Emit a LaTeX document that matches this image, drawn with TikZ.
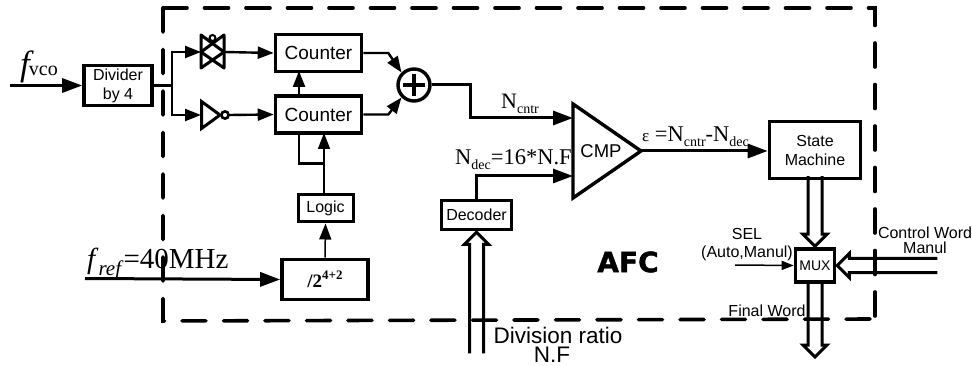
\documentclass[tikz,border=0pt]{standalone}
\usepackage{fontspec}
\setmainfont{Liberation Serif}
\setsansfont{Liberation Sans}
\newfontfamily\afcfont[BoldFeatures={FakeBold=1.5}]{DejaVu Sans}
\usetikzlibrary{arrows.meta,calc,shapes.geometric}
\newcommand{\fs}[1]{\fontsize{#1}{#1}\selectfont}
\newcommand{\lowtxt}[2]{\raisebox{-0.22em}{\fs{#1}#2}}
\tikzset{
  x=1pt,y=-1pt,
  box/.style={draw=black,line width=3.6pt,inner sep=0pt,align=center,font=\sffamily\fontsize{16}{19}\selectfont,fill=white},
  txt/.style={inner sep=0pt,align=center,font=\sffamily\fs{16}},
  tip/.style={-{Triangle[length=16pt,width=12pt]}},
  bigtip/.style={-{Triangle[length=20pt,width=14pt]}},
  thick line/.style={line width=3pt,line join=miter},
  mid line/.style={line width=2.4pt,line join=miter},
  thin line/.style={line width=1.5pt,line join=miter},
  frame line/.style={line width=3.6pt,line cap=round,dash pattern=on 24pt off 17.5pt},
  hollow/.style={line width=3pt,line join=miter,fill=none},
}
\newcommand{\hollowarrow}[3]{% apex, rotation, tail length
  \draw[hollow,shift={(#1)},rotate=#2] (-7,#3) -- (-7,13) -- (-12,13) -- (0,1) -- (12,13) -- (7,13) -- (7,#3);}
\begin{document}
\begin{tikzpicture}
\useasboundingbox (0,0) rectangle (972,366);
\fill[white] (0,0) rectangle (972,366);
% AFC frame
\coordinate (fTL) at (163,8); \coordinate (fTR) at (875,8);
\coordinate (fBL) at (163,321); \coordinate (fBR) at (875,319);
\draw[frame line] (fTL) -- (fTR) -- (fBR);
\draw[frame line] (fTL) -- (fBL) -- (fBR);
% blocks
\node[box,minimum width=68pt,minimum height=40pt] (div) at (118,85.5) {Divider\\by 4};
\node[box,font=\sffamily\fs{19},minimum width=86pt,minimum height=37pt] (c1) at (318.5,53) {Counter};
\node[box,font=\sffamily\fs{19},minimum width=86pt,minimum height=37pt] (c2) at (318.5,114.5) {Counter};
\node[box,line width=3pt,minimum width=55pt,minimum height=27pt] (logic) at (325.5,208.5) {Logic};
\node[box,minimum width=86pt,minimum height=40pt] (pow) at (325,279.5) {\rmfamily\bfseries\fs{19}/2\raisebox{0.45em}{\fs{13}4+2}};
\node[box,minimum width=70pt,minimum height=29pt] (dec) at (476.5,215) {Decoder};
\node[box,minimum width=91pt,minimum height=57pt] (sm) at (815,150) {State\\Machine};
\node[box,font=\sffamily\fs{14},minimum width=39pt,minimum height=33pt] (mux) at (815,265.5) {MUX};
\node[draw,circle,line width=3.4pt,minimum size=32pt,inner sep=0pt] (sum) at (414,85) {};
\draw[line width=3.6pt] (sum.center) ++(-11,0) -- ++(22,0) (sum.center) ++(0,-11) -- ++(0,22);
\coordinate (cmpa0) at (573,104); \coordinate (cmpb0) at (573,198); \coordinate (cmpo) at (641,151);
\draw[line width=3.4pt,line join=miter] (cmpa0) -- (cmpo) -- (cmpb0) -- cycle;
\node[txt,font=\sffamily\fs{18.5}] (cmpt) at (601,151) {CMP};
% transmission gate
\coordinate (tgw) at (201,52); \coordinate (tge) at (224,52);
\draw[line width=3pt,line join=round] (201,35) -- (224,52) -- (201,68) -- cycle;
\draw[line width=3pt,line join=round] (224,35) -- (201,52) -- (224,68) -- cycle;
\draw[line width=2pt] (212.5,38) circle (3pt);
% inverter
\coordinate (invw) at (201,115); \coordinate (inve) at (229,115);
\draw[line width=3pt,line join=miter] (201.5,101.5) -- (220,115) -- (201.5,128.5) -- cycle;
\draw[line width=2.6pt] (225,115) circle (3.6pt);
% input and connectors
\coordinate (vcoin) at (10,85.5);
\coordinate (refin) at (85,278.5);
\coordinate (split) at (172,85.5);
\draw[thick line,bigtip] (vcoin) -- (div.west);
\draw[thick line,bigtip] (refin) -- (pow.west);
\draw[mid line] (div.east) -- (split);
\draw[mid line,tip] (split) |- (tgw);
\draw[mid line,tip] (split) |- (invw);
\draw[mid line,tip] (tge) -- (c1.west);
\draw[mid line,tip] (inve) -- (c2.west);
\coordinate (c2top) at (299,96); \coordinate (c1bot) at (299,71);
\draw[mid line,tip] (c2top) -- (c1bot);
\draw[mid line,tip] (c1.east) -- ++(25,0) -- (sum.north west);
\draw[mid line,tip] (c2.east) -- ++(25,0) -- (sum.south west);
\coordinate (c2b1) at (299,133); \coordinate (c2j) at (324,163.5); \coordinate (c2b2) at (324,133);
\draw[mid line] (c2b1) |- (c2j);
\draw[thin line,tip] (logic.north -| c2j) -- (c2b2);
\draw[thin line,tip] (pow.north) -- (logic.south);
\coordinate (cmpa) at (573,118); \coordinate (cmpb) at (573,176);
\draw[thick line,bigtip] (sum.east) -- (470,85) |- (cmpa);
\draw[thick line,bigtip] (dec.north) |- (cmpb);
\draw[thick line,bigtip] (cmpo) -- (cmpo -| sm.west);
% hollow buses
\hollowarrow{dec.south}{0}{122}
\coordinate (muxtop) at (mux.north);
\hollowarrow{muxtop}{180}{71}
\coordinate (muxr) at (mux.east);
\hollowarrow{muxr}{90}{101}
\coordinate (finalend) at (815,358);
\hollowarrow{finalend}{180}{76}
\coordinate (selin) at (735,265);
\draw[thin line,-{Triangle[length=12pt,width=9pt]}] (selin) -- (mux.west);
% labels
\node[inner sep=0pt,anchor=base west] (lvco) at (20,76) {\rmfamily\fs{35}\itshape f\kern-1pt\raisebox{0pt}{\upshape\fs{20}vco}};
\node[inner sep=0pt,anchor=base west] (lref) at (87,269) {\rmfamily\fs{29}\textit{f}\lowtxt{21}{\textit{ref}}=40MHz};
\node[inner sep=0pt,anchor=base] (lncntr) at (520,109) {\rmfamily\fs{22}N\lowtxt{14}{cntr}};
\node[inner sep=0pt,anchor=base west] (lndec) at (455,165) {\rmfamily\fs{22.5}N\lowtxt{14}{dec}=16*N.F};
\node[inner sep=0pt,anchor=base west] (leps) at (642,142) {\rmfamily\fs{22.5}{\fs{17}ε} =N\lowtxt{14}{cntr}-N\lowtxt{14}{dec}};
\node[txt] (lsel) at (747,234) {SEL};
\node[txt] (lauto) at (747,253) {(Auto,Manul)};
\node[txt] (lctrl) at (925,233) {Control Word};
\node[txt] (lman) at (925,248) {Manul};
\node[txt] (lfinal) at (767,311) {Final Word};
\node[txt,font=\sffamily\fs{22.5}] (ldiv) at (558,335) {Division ratio};
\node[txt,font=\sffamily\fs{22.5}] (lnf) at (552,355) {N.F};
\node[inner sep=0pt] (lafc) at (628,262) {\afcfont\bfseries\fs{28}AFC};
\end{tikzpicture}
\end{document}
